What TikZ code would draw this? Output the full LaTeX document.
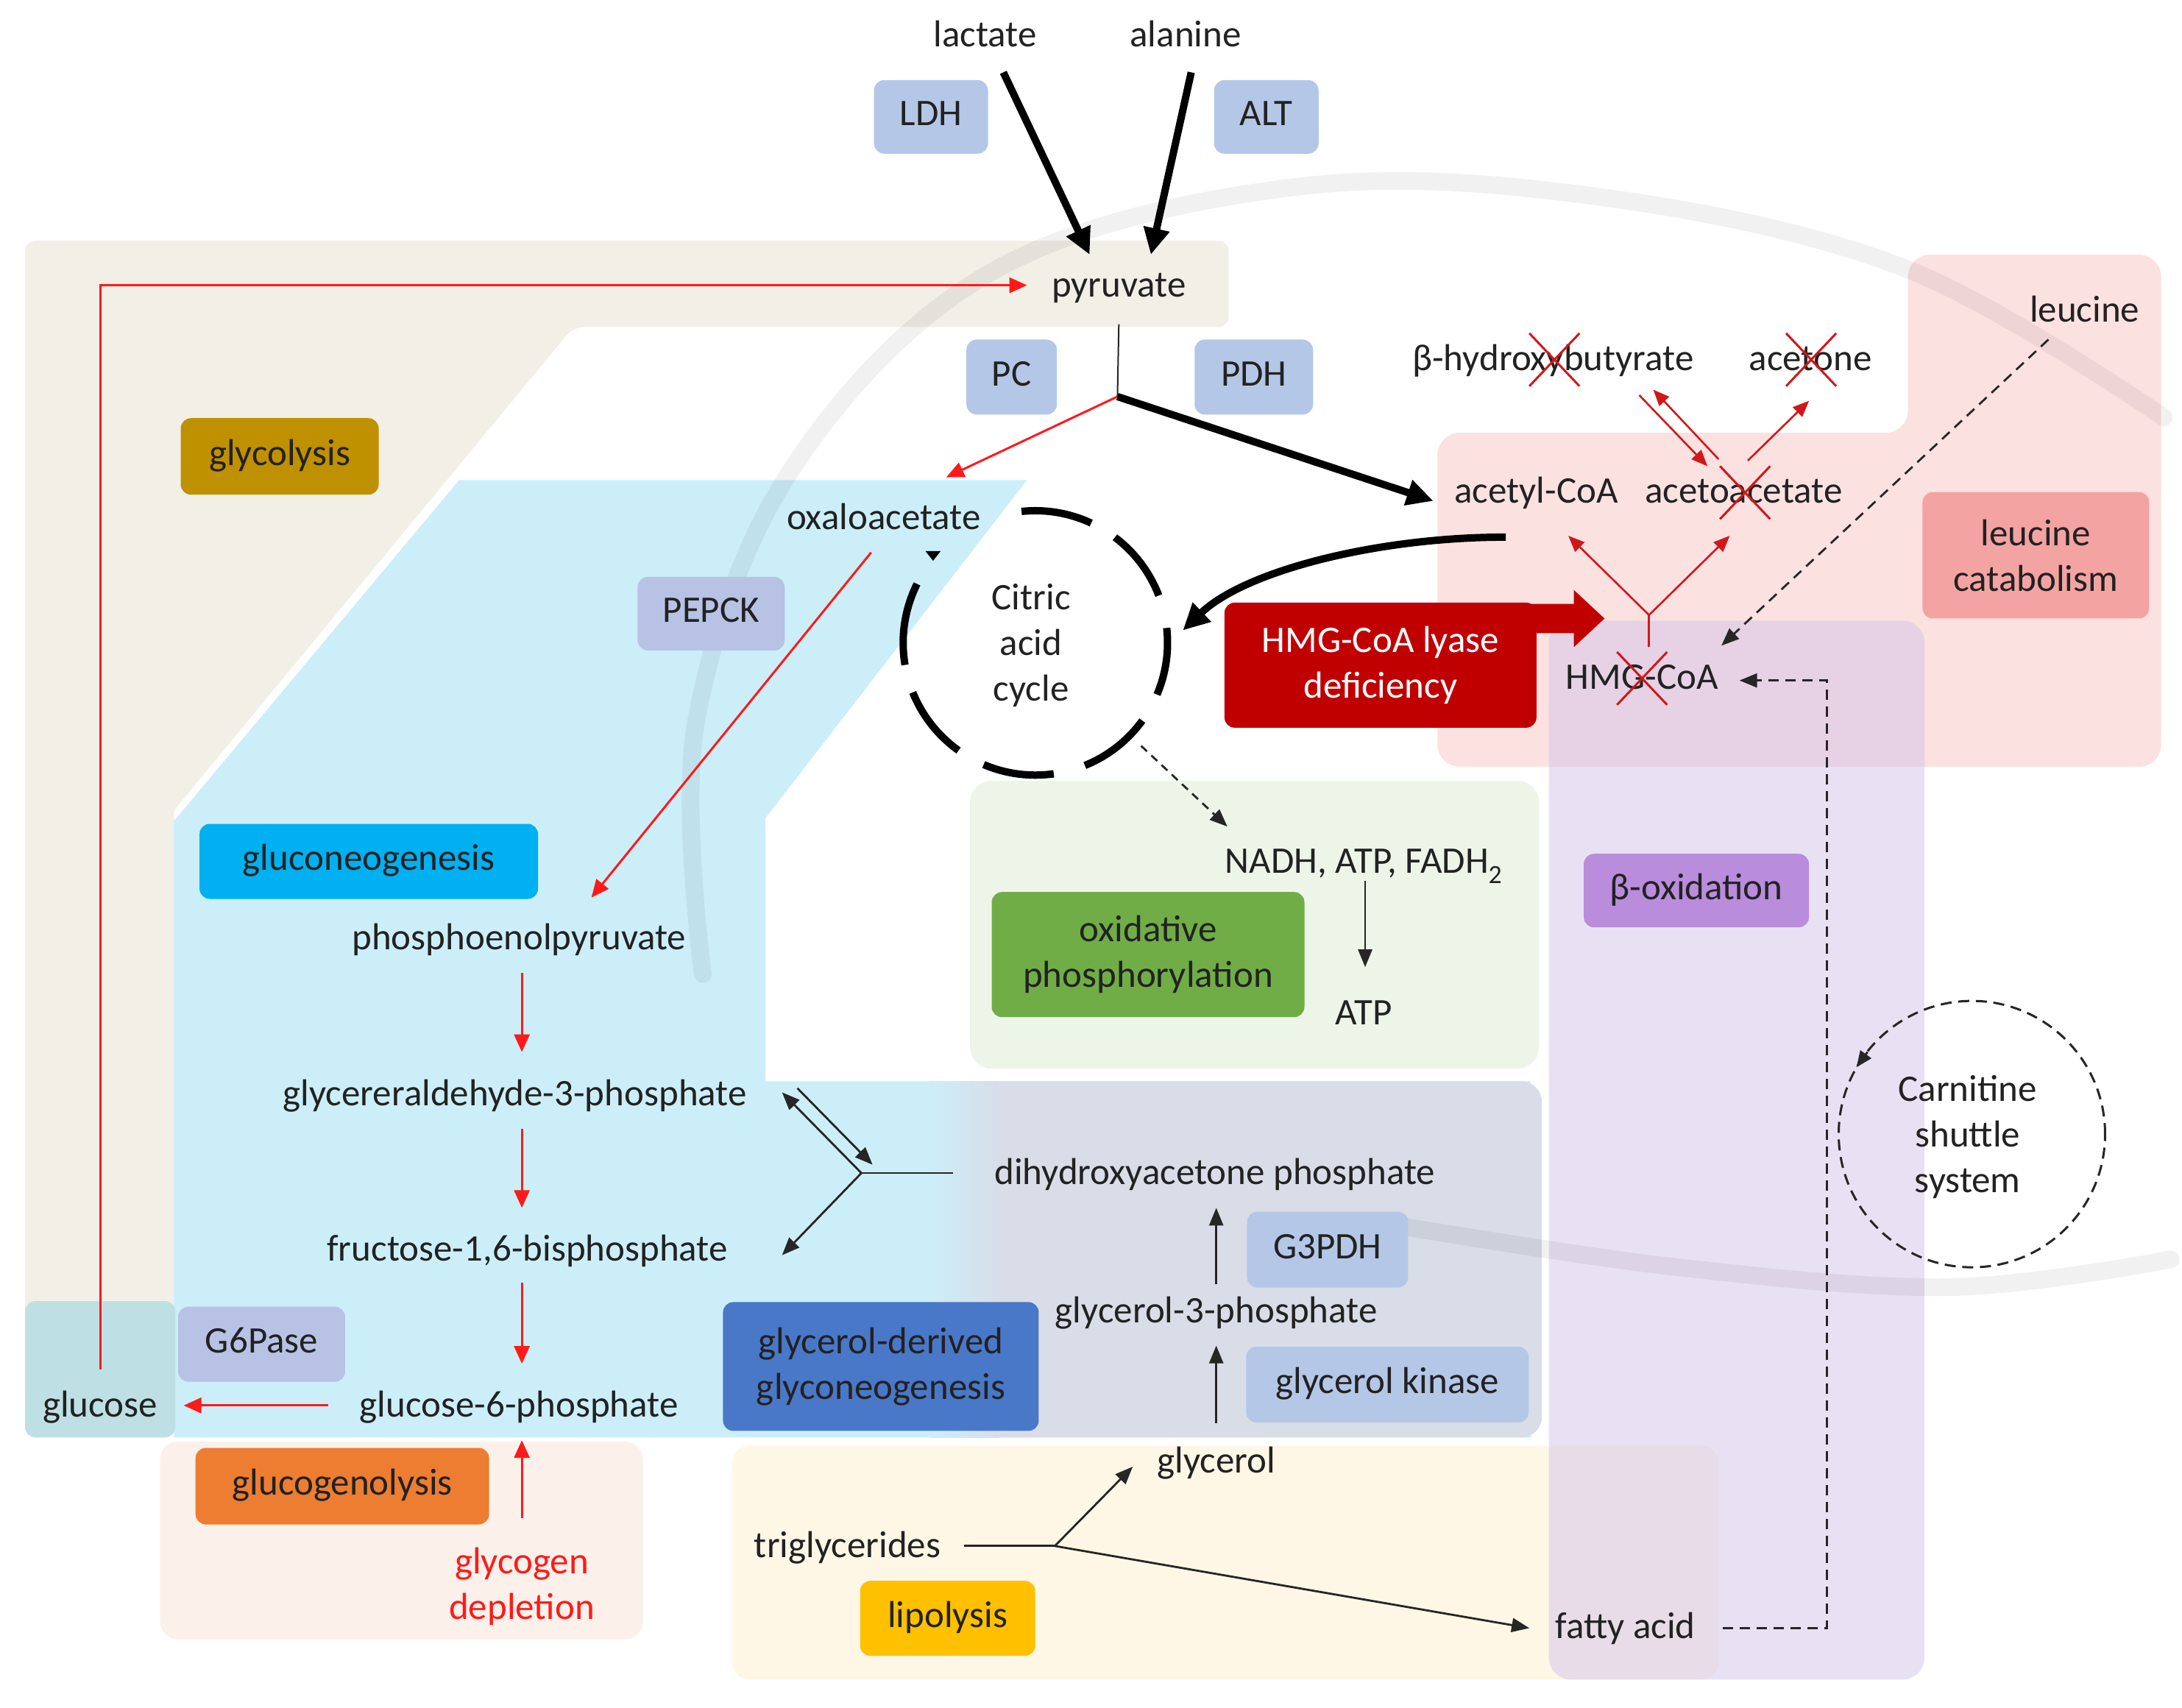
\documentclass[tikz,border=0pt]{standalone}
\usepackage{fontspec}
\setmainfont{Carlito}
\usetikzlibrary{arrows.meta,calc}
\definecolor{enz}{HTML}{B4C7E7}
\definecolor{enzb}{HTML}{B7C2E5}
\definecolor{glyc}{HTML}{BF9000}
\definecolor{gng}{HTML}{00B0F0}
\definecolor{oxp}{HTML}{70AD47}
\definecolor{hmgred}{HTML}{C00000}
\definecolor{leuc}{HTML}{F4A3A3}
\definecolor{boxp}{HTML}{B98CDC}
\definecolor{gdg}{HTML}{4A78C8}
\definecolor{lip}{HTML}{FFC000}
\definecolor{glcg}{HTML}{ED7D31}
\definecolor{bgBeige}{HTML}{F1EFE6}
\definecolor{bgBlue}{HTML}{CCEEF9}
\definecolor{bgGray}{HTML}{D8DDE8}
\definecolor{bgGreen}{HTML}{EDF5E9}
\definecolor{bgPink}{HTML}{FCE1E1}
\definecolor{bgPurple}{HTML}{D2C3E9}
\definecolor{bgPeach}{HTML}{FCF1EA}
\definecolor{bgYellow}{HTML}{FEF7E6}
\definecolor{bgTeal}{HTML}{BEE0E5}
\definecolor{aRed}{HTML}{FF1A1A}
\definecolor{kRed}{HTML}{D01818}
\definecolor{txt}{HTML}{222222}
\newcommand{\fs}{\fontsize{51}{62}\selectfont}
\begin{document}
\begin{tikzpicture}[x=1.891pt,y=-1.891pt,
  lbl/.style={inner sep=0pt, align=center, font=\fs, text=txt},
  one/.style={text height=36pt, text depth=12pt},
  pbox/.style={rounded corners=14pt, inner sep=0pt, align=center, font=\fs, text=txt},
  ra/.style={draw=aRed, line width=3pt, -{Triangle[length=24pt,width=21pt]}},
  ka/.style={draw=kRed, line width=2.6pt, -{Triangle[length=22pt,width=18pt]}},
  ba/.style={draw=black!85, line width=2.8pt, -{Triangle[length=24pt,width=19pt]}},
  bthick/.style={draw=black, line width=10pt, -{Triangle[length=36pt,width=34pt]}},
  da/.style={draw=black!85, line width=2.8pt, dash pattern=on 14pt off 9pt, -{Triangle[length=24pt,width=19pt]}},
  xmark/.style={draw=kRed, line width=3pt},
  wm/.style={draw=black, draw opacity=0.055, line width=24pt, line cap=round}
]
\useasboundingbox (0,0) rectangle (1568,1227);

% ---------- background regions ----------
\fill[bgPeach, rounded corners=24pt] (115,1036) rectangle (462,1178);
\fill[bgYellow, rounded corners=24pt] (526,1039) rectangle (1235,1207);
\fill[bgGreen, rounded corners=30pt] (697,561) rectangle (1106,768);
\fill[bgPink, rounded corners=30pt] (1033,311) -- (1371,311) -- (1371,183) -- (1553,183) -- (1553,551) -- (1033,551) -- cycle;
\fill[bgBeige, rounded corners=14pt] (18,173) -- (883,173) -- (883,235) -- (412,235) -- (122,586) -- (135,600) -- (135,1000) -- (18,1000) -- cycle;
\fill[bgBlue] (330,345) -- (738,345) -- (550,588) -- (550,777) -- (1100,777) -- (1100,1033) -- (125,1033) -- (125,590) -- cycle;
\fill[bgTeal, rounded corners=14pt] (18,935) rectangle (126,1033);
\fill[bgGray, rounded corners=28pt] (690,777) rectangle (1108,1033);
\shade[left color=bgBlue, right color=bgGray] (668,777) rectangle (718,1033);
\fill[bgPurple, fill opacity=0.5, rounded corners=30pt] (1113,446) rectangle (1383,1207);

% ---------- watermark (faint) ----------
\draw[wm] plot[smooth, tension=0.6] coordinates {(505,700) (500,520) (569,337) (715,194) (934,134) (1153,142) (1372,194) (1555,300)};
\draw[wm] plot[smooth, tension=0.6] coordinates {(1000,880) (1200,910) (1400,925) (1560,905)};

% ---------- boxes ----------
\node[pbox, one, fill=enz, minimum width=155pt, minimum height=100pt] (ldh) at (669,84) {LDH};
\node[pbox, one, fill=enz, minimum width=142pt, minimum height=100pt] (alt) at (910,84) {ALT};
\node[pbox, one, fill=enz, minimum width=123pt, minimum height=102pt] (pc) at (727,271) {PC};
\node[pbox, one, fill=enz, minimum width=161pt, minimum height=102pt] (pdh) at (901,271) {PDH};
\node[pbox, one, fill=glyc, minimum width=269pt, minimum height=104pt] (glycol) at (201,328) {glycolysis};
\node[pbox, one, fill=enzb, minimum width=200pt, minimum height=100pt] (pepck) at (511,441) {PEPCK};
\node[pbox, fill=leuc, minimum width=308pt, minimum height=172pt] (leucat) at (1463,399) {leucine\\catabolism};
\node[pbox, fill=hmgred, text=white, minimum width=424pt, minimum height=170pt] (hmgd) at (992,478) {HMG-CoA lyase\\deficiency};
\fill[hmgred] (1100,434) -- (1131,434) -- (1131,424) -- (1153,444.5) -- (1131,465) -- (1131,455) -- (1100,455) -- cycle;
\node[pbox, one, fill=boxp, minimum width=306pt, minimum height=100pt] (boxbox) at (1219,640) {β-oxidation};
\node[pbox, fill=oxp, minimum width=425pt, minimum height=170pt] (oxphos) at (825,686) {oxidative\\phosphorylation};
\node[pbox, one, fill=gng, minimum width=460pt, minimum height=102pt] (gngbox) at (265,619) {gluconeogenesis};
\node[pbox, one, fill=enzb, minimum width=227pt, minimum height=102pt] (g6pase) at (188,966) {G6Pase};
\node[pbox, fill=gdg, minimum width=429pt, minimum height=175pt] (gdgbox) at (633,982) {glycerol-derived\\glyconeogenesis};
\node[pbox, one, fill=enz, minimum width=219pt, minimum height=103pt] (g3pdh) at (954,898) {G3PDH};
\node[pbox, one, fill=enz, minimum width=384pt, minimum height=103pt] (gk) at (997,995) {glycerol kinase};
\node[pbox, one, fill=lip, minimum width=238pt, minimum height=102pt] (lipbox) at (681,1163) {lipolysis};
\node[pbox, one, fill=glcg, minimum width=399pt, minimum height=104pt] (glcgbox) at (246,1068) {glucogenolysis};

% ---------- metabolite labels ----------
\node[lbl, one] (lac) at (708,27) {lactate};
\node[lbl, one] (ala) at (852,27) {alanine};
\node[lbl, one] (pyr) at (804,207) {pyruvate};
\node[lbl, one] (oxa) at (635,374) {oxaloacetate};
\coordinate (tca) at (744,462);
\node[lbl] (tcatxt) at (741,464) {Citric\\acid\\cycle};
\node[lbl, one] (acoa) at (1104,355) {acetyl-CoA};
\node[lbl, one] (acac) at (1253,355) {acetoacetate};
\node[lbl, one] (bhb) at (1116,260) {β-hydroxybutyrate};
\node[lbl, one] (acet) at (1301,260) {acetone};
\node[lbl, one] (leu) at (1498,225) {leucine};
\node[lbl, one] (hmg) at (1180,489) {HMG-CoA};
\node[lbl, one] (nadh) at (980,621) {NADH, ATP, FADH\textsubscript{2}};
\node[lbl, one] (atp) at (980,730) {ATP};
\node[lbl, one] (pep) at (373,676) {phosphoenolpyruvate};
\node[lbl, one] (gap) at (370,788) {glycereraldehyde-3-phosphate};
\node[lbl, one] (fbp) at (379,900) {fructose-1,6-bisphosphate};
\node[lbl, one] (g6p) at (373,1012) {glucose-6-phosphate};
\node[lbl, one] (glc) at (72,1012) {glucose};
\node[lbl, text=aRed] (gly) at (375,1140) {glycogen\\depletion};
\node[lbl, one] (dhap) at (873,845) {dihydroxyacetone phosphate};
\node[lbl, one] (g3p) at (874,944) {glycerol-3-phosphate};
\node[lbl, one] (glyc) at (874,1052) {glycerol};
\node[lbl, one] (tg) at (609,1113) {triglycerides};
\node[lbl, one] (fa) at (1168,1171) {fatty acid};
\node[lbl] (cs) at (1417,815) {};
\node[lbl] (cstxt) at (1414,817) {Carnitine\\shuttle\\system};

% ---------- cycles ----------
\foreach \a/\b in {-96/-65, -53/-21, -6.5/23, 36/68, 82/113, 125.5/158, 170.4/206.5}{
  \draw[black, line width=10pt] ($(tca)+(\a:95)$) arc[start angle=\a, end angle=\b, radius=95];
}
\fill[black] (665,396) -- (676,396) -- (670.5,403) -- cycle;
\draw[black!85, line width=3pt, dash pattern=on 15pt off 9pt] (cs) circle[radius=181pt];
\draw[black!85, line width=3pt, -{Triangle[length=22pt,width=18pt]}] ($(cs)+(-75,-59)$) -- ($(cs)+(-83,-48)$);

% ---------- connectors ----------
\draw[bthick] ($(lac)+(13,25)$) -- ($(pyr)+(-21,-24)$);
\draw[bthick] ($(ala)+(4,25)$) -- ($(pyr)+(23,-24)$);
\draw[ra] ($(glc)+(0,-28)$) |- ($(pyr)+(-66,-2)$);
\coordinate (br1) at (803,285);
\draw[black!85, line width=2pt] ($(pyr)+(0,26)$) -- (br1);
\draw[ra] (br1) -- ($(oxa)+(45,-31)$);
\draw[bthick] (br1) -- ($(acoa)+(-74,5)$);
\draw[bthick] ($(acoa)+(-22,31)$) .. controls (990,386) and (895,410) .. ($(tca)+(106,-9)$);
\draw[ra] ($(oxa)+(-9,23)$) -- ($(pep)+(52,-31)$);
\draw[da, dash pattern=on 11pt off 8pt] ($(tca)+(76,74)$) -- ($(nadh)+(-98,-27)$);
\draw[ba] ($(nadh)+(1,12)$) -- ($(atp)+(1,-35)$);
\draw[ra] ($(pep)+(2,23)$) -- ($(gap)+(5,-32)$);
\draw[ra] ($(gap)+(5,23)$) -- ($(fbp)+(-4,-32)$);
\draw[ra] ($(fbp)+(-4,22)$) -- ($(g6p)+(2,-32)$);
\draw[ra] ($(g6p)+(-137,-2)$) -- ($(glc)+(60,-2)$);
\draw[ra] ($(gly)+(0,-49)$) -- ($(g6p)+(2,23)$);
% DHAP branch
\coordinate (br2) at (619,843);
\draw[black!85, line width=2.8pt] ($(dhap)+(-188,-2)$) -- (br2);
\draw[ba] (br2) -- ($(gap)+(192,-3)$);
\draw[ba] ($(gap)+(203,-6)$) -- (627,837);
\draw[ba] (br2) -- ($(fbp)+(183,2)$);
\draw[ba] ($(g3p)+(0,-21)$) -- ($(dhap)+(1,23)$);
\draw[ba] ($(glyc)+(0,-29)$) -- ($(g3p)+(0,23)$);
% lipolysis
\coordinate (br3) at (758,1111);
\draw[black!85, line width=2.8pt] ($(tg)+(84,-2)$) -- (br3);
\draw[ba] (br3) -- ($(glyc)+(-60,2)$);
\draw[ba] (br3) -- ($(fa)+(-69,-1)$);
\draw[da] ($(fa)+(70,-1)$) -| ($(hmg)+(133,0)$) -- ($(hmg)+(70,0)$);
\draw[da] ($(leu)+(-26,19)$) -- ($(hmg)+(57,-25)$);
% ketone branch
\coordinate (br4) at (1185,442);
\draw[kRed, line width=2.6pt] ($(hmg)+(5,-24)$) -- (br4);
\draw[ka] (br4) -- ($(acoa)+(23,30)$);
\draw[ka] (br4) -- ($(acac)+(-10,30)$);
\draw[ka] ($(acac)+(-18,-25)$) -- ($(bhb)+(72,20)$);
\draw[ka] ($(bhb)+(62,24)$) -- ($(acac)+(-26,-20)$);
\draw[ka] ($(acac)+(3,-24)$) -- ($(acet)+(-1,28)$);
% crosses
\foreach \c/\dx/\dy in {bhb/1/-1.5, acet/0.5/-1.5, acac/1/-1, hmg/0/-1.5}{
  \draw[xmark] ($(\c)+(\dx,\dy)+(-18,-19)$) -- ($(\c)+(\dx,\dy)+(18,19)$);
  \draw[xmark] ($(\c)+(\dx,\dy)+(18,-19)$) -- ($(\c)+(\dx,\dy)+(-18,19)$);
}
\end{tikzpicture}
\end{document}
